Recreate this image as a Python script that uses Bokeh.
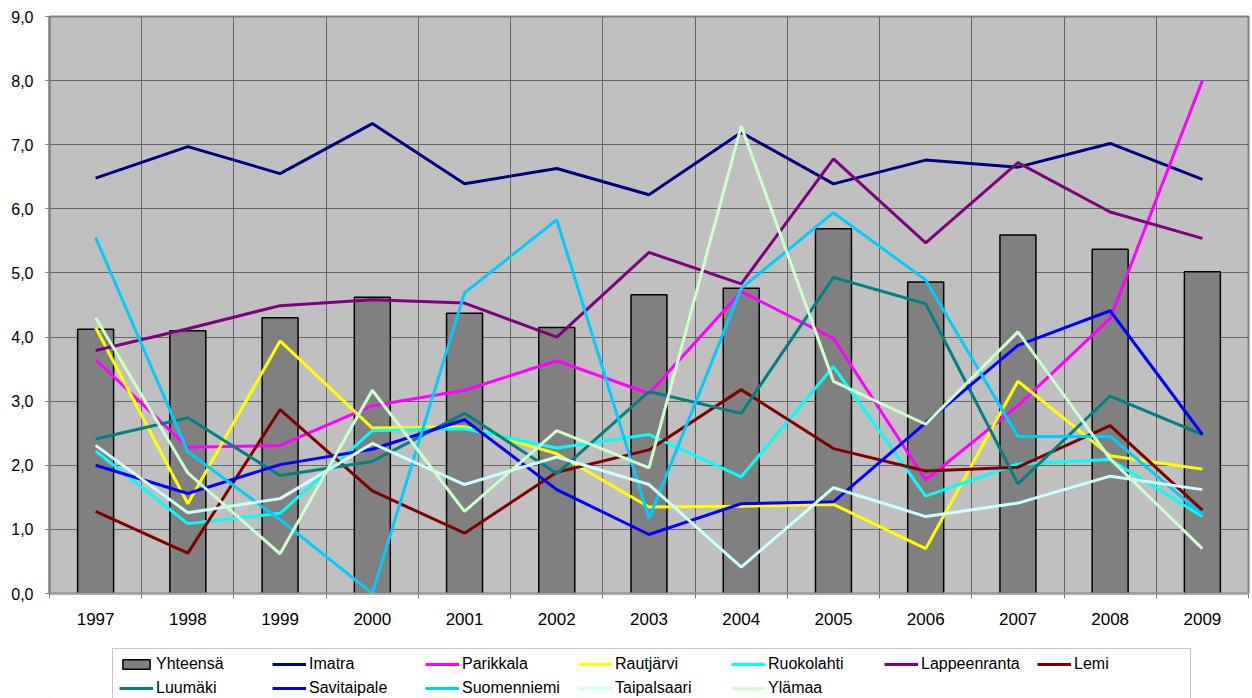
from bokeh.plotting import figure
from bokeh.models import Range1d, FixedTicker, Legend, LegendItem
from bokeh.layouts import column
from bokeh.embed import file_html
from bokeh.resources import INLINE

years = ["1997", "1998", "1999", "2000", "2001", "2002", "2003",
         "2004", "2005", "2006", "2007", "2008", "2009"]

yhteensa = [4.12, 4.10, 4.30, 4.62, 4.37, 4.15, 4.66, 4.76, 5.69, 4.86, 5.59, 5.37, 5.02]
imatra = [6.48, 6.97, 6.55, 7.33, 6.39, 6.63, 6.22, 7.19, 6.39, 6.76, 6.65, 7.02, 6.46]
parikkala = [3.65, 2.28, 2.31, 2.93, 3.17, 3.63, 3.12, 4.71, 3.98, 1.77, 2.93, 4.29, 8.00]
rautjarvi = [4.15, 1.40, 3.94, 2.58, 2.60, 2.18, 1.35, 1.36, 1.39, 0.70, 3.31, 2.15, 1.94]
ruokolahti = [2.22, 1.09, 1.25, 2.54, 2.57, 2.27, 2.48, 1.82, 3.54, 1.52, 2.02, 2.09, 1.20]
lappeenranta = [3.79, 4.13, 4.49, 4.58, 4.53, 4.00, 5.32, 4.83, 6.78, 5.47, 6.72, 5.95, 5.54]
lemi = [1.28, 0.63, 2.87, 1.60, 0.94, 1.89, 2.24, 3.18, 2.26, 1.91, 1.97, 2.62, 1.30]
luumaki = [2.41, 2.74, 1.84, 2.06, 2.81, 1.87, 3.15, 2.81, 4.93, 4.52, 1.71, 3.08, 2.48]
savitaipale = [2.00, 1.56, 2.01, 2.25, 2.71, 1.62, 0.92, 1.40, 1.43, 2.66, 3.87, 4.41, 2.48]
suomenniemi = [5.55, 2.21, 1.15, 0.00, 4.69, 5.83, 1.17, 4.76, 5.94, 4.89, 2.45, 2.45, 1.23]
taipalsaari = [2.31, 1.26, 1.48, 2.34, 1.70, 2.13, 1.70, 0.41, 1.65, 1.20, 1.41, 1.83, 1.62]
ylamaa = [4.30, 1.88, 0.62, 3.17, 1.28, 2.54, 1.96, 7.29, 3.31, 2.64, 4.08, 2.10, 0.70]

y_ticks = [0, 1, 2, 3, 4, 5, 6, 7, 8, 9]
y_tick_labels = ["0,0", "1,0", "2,0", "3,0", "4,0", "5,0", "6,0", "7,0", "8,0", "9,0"]

bar_name = "Yhteensä"
line_series = [
    ("Imatra", imatra, "#000080"),
    ("Parikkala", parikkala, "#FF00FF"),
    ("Rautjärvi", rautjarvi, "#FFFF00"),
    ("Ruokolahti", ruokolahti, "#00FFFF"),
    ("Lappeenranta", lappeenranta, "#800080"),
    ("Lemi", lemi, "#800000"),
    ("Luumäki", luumaki, "#008080"),
    ("Savitaipale", savitaipale, "#0000FF"),
    ("Suomenniemi", suomenniemi, "#00CCFF"),
    ("Taipalsaari", taipalsaari, "#CCFFFF"),
    ("Ylämaa", ylamaa, "#CCFFCC"),
]

FONT = "Liberation Sans"
n = len(years)
xs = list(range(n))

p = figure(width=1252, height=640, output_backend="svg", toolbar_location=None,
           x_range=Range1d(-0.5, n - 0.5), y_range=Range1d(0, 9),
           min_border_left=49, min_border_right=4, min_border_top=16,
           min_border_bottom=47)
p.background_fill_color = "#C0C0C0"
p.border_fill_color = "white"
p.outline_line_color = "#808080"
p.outline_line_width = 2

# grid
p.ygrid.ticker = FixedTicker(ticks=y_ticks)
p.ygrid.grid_line_color = "#666666"
p.ygrid.grid_line_width = 1
p.xgrid.ticker = FixedTicker(ticks=[i + 0.5 for i in range(n - 1)])
p.xgrid.grid_line_color = "#666666"
p.xgrid.grid_line_width = 1

# axes
p.xaxis.ticker = FixedTicker(ticks=xs, minor_ticks=[i - 0.5 for i in range(n + 1)])
p.xaxis.major_label_overrides = {i: years[i] for i in xs}
p.xaxis.major_tick_out = 0
p.xaxis.major_tick_in = 0
p.xaxis.minor_tick_out = 5
p.xaxis.minor_tick_in = 0
p.xaxis.minor_tick_line_color = "#808080"
p.xaxis.axis_line_color = "#A0A0A0"
p.xaxis.axis_line_width = 2
p.xaxis.major_label_standoff = 14
p.xaxis.major_label_text_font_size = "17px"

p.yaxis.ticker = FixedTicker(ticks=y_ticks)
p.yaxis.major_label_overrides = {t: l for t, l in zip(y_ticks, y_tick_labels)}
p.yaxis.major_tick_out = 4
p.yaxis.major_tick_in = 0
p.yaxis.minor_tick_out = 0
p.yaxis.minor_tick_in = 0
p.yaxis.major_tick_line_color = "#808080"
p.yaxis.axis_line_color = "#808080"
p.yaxis.axis_line_width = 2
p.yaxis.major_label_standoff = 12
p.yaxis.major_label_text_font_size = "16px"

for ax in (p.xaxis, p.yaxis):
    ax.major_label_text_font = FONT
    ax.major_label_text_color = "black"

BAR_STYLE = dict(fill_color="#808080", line_color="black", line_width=1.5)
p.vbar(x=xs, top=yhteensa, width=0.39, **BAR_STYLE)
for name, vals, color in line_series:
    p.line(xs, vals, line_color=color, line_width=3)

# legend figure (below the chart); its renderers sit outside its ranges
lg = figure(width=1252, height=58, output_backend="svg", toolbar_location=None,
            x_range=Range1d(0, 1), y_range=Range1d(0, 1),
            x_axis_type=None, y_axis_type=None,
            min_border_left=49, min_border_right=4, min_border_top=8,
            min_border_bottom=0)
lg.grid.visible = False
lg.outline_line_color = None
lg.background_fill_color = "white"
lg.border_fill_color = "white"

items = []
rb = lg.vbar(x=[-10], top=[-10], width=0.39, **BAR_STYLE)
items.append(LegendItem(label=bar_name, renderers=[rb]))
for name, vals, color in line_series:
    r = lg.line([-10, -9], [-10, -10], line_color=color, line_width=3)
    items.append(LegendItem(label=name, renderers=[r]))

legend = Legend(items=items, location=(63, -6), orientation="horizontal",
                ncols=7, glyph_width=34, glyph_height=12, label_standoff=3,
                label_width=110, label_height=12, spacing=6, padding=6,
                margin=0, border_line_color="#8C8C8C", border_line_width=1,
                background_fill_color="white", background_fill_alpha=1.0,
                label_text_font=FONT, label_text_font_size="16px",
                label_text_color="black")
lg.add_layout(legend, "center")

layout = column(p, lg, spacing=0)
open("out.html", "w").write(file_html(layout, INLINE))
